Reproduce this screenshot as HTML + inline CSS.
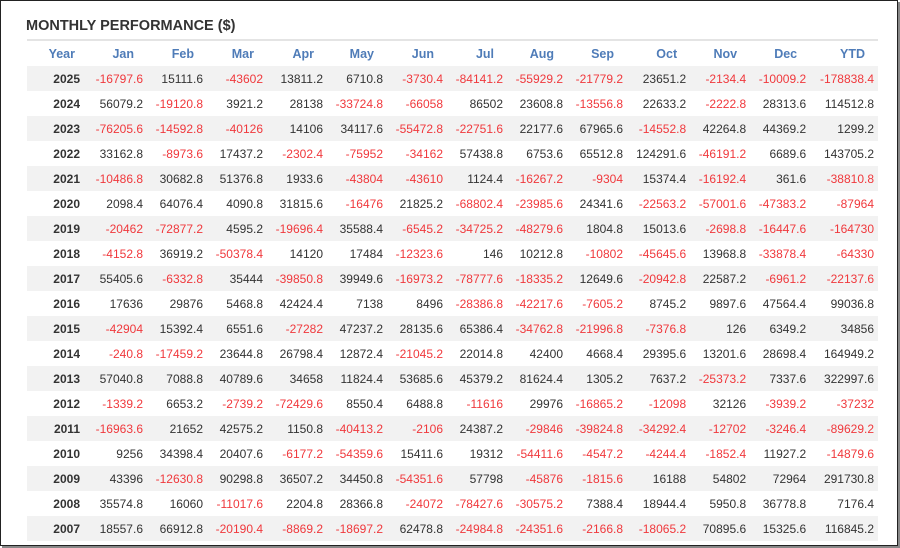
<!DOCTYPE html>
<html><head><meta charset="utf-8"><style>
html,body{margin:0;padding:0;background:#fff;}
.box{position:absolute;left:0;top:0;width:896px;height:544px;border:1px solid #222;box-shadow:2px 2px 0 #888;background:#fff;}
h1{position:absolute;left:26px;top:18px;margin:0;font:bold 14.5px "Liberation Sans",sans-serif;color:#333;}
table{position:absolute;left:27px;top:39px;width:851px;border-collapse:collapse;font:12px "Liberation Sans",sans-serif;color:#333;border-top:2px solid #e4e4e4;}
th{height:25px;color:#4f7cb8;font-weight:bold;font-size:12.5px;text-align:right;padding:0 13px 0 0;}
td{height:25px;text-align:right;padding:0 4px 0 0;white-space:nowrap;}
td:first-child{font-weight:bold;padding-right:7px;width:53px;}
th:first-child{padding-right:12px;}
tbody tr:nth-child(odd){background:#f2f2f2;}
.n{color:#f0383c;}
</style></head><body>
<div class="box"></div>
<h1>MONTHLY PERFORMANCE ($)</h1>
<table>
<thead><tr><th>Year</th><th>Jan</th><th>Feb</th><th>Mar</th><th>Apr</th><th>May</th><th>Jun</th><th>Jul</th><th>Aug</th><th>Sep</th><th>Oct</th><th>Nov</th><th>Dec</th><th>YTD</th></tr></thead>
<tbody id="b"></tbody>
</table>
<script>
var d=[
[2025,-16797.6,15111.6,-43602,13811.2,6710.8,-3730.4,-84141.2,-55929.2,-21779.2,23651.2,-2134.4,-10009.2,-178838.4],
[2024,56079.2,-19120.8,3921.2,28138,-33724.8,-66058,86502,23608.8,-13556.8,22633.2,-2222.8,28313.6,114512.8],
[2023,-76205.6,-14592.8,-40126,14106,34117.6,-55472.8,-22751.6,22177.6,67965.6,-14552.8,42264.8,44369.2,1299.2],
[2022,33162.8,-8973.6,17437.2,-2302.4,-75952,-34162,57438.8,6753.6,65512.8,124291.6,-46191.2,6689.6,143705.2],
[2021,-10486.8,30682.8,51376.8,1933.6,-43804,-43610,1124.4,-16267.2,-9304,15374.4,-16192.4,361.6,-38810.8],
[2020,2098.4,64076.4,4090.8,31815.6,-16476,21825.2,-68802.4,-23985.6,24341.6,-22563.2,-57001.6,-47383.2,-87964],
[2019,-20462,-72877.2,4595.2,-19696.4,35588.4,-6545.2,-34725.2,-48279.6,1804.8,15013.6,-2698.8,-16447.6,-164730],
[2018,-4152.8,36919.2,-50378.4,14120,17484,-12323.6,146,10212.8,-10802,-45645.6,13968.8,-33878.4,-64330],
[2017,55405.6,-6332.8,35444,-39850.8,39949.6,-16973.2,-78777.6,-18335.2,12649.6,-20942.8,22587.2,-6961.2,-22137.6],
[2016,17636,29876,5468.8,42424.4,7138,8496,-28386.8,-42217.6,-7605.2,8745.2,9897.6,47564.4,99036.8],
[2015,-42904,15392.4,6551.6,-27282,47237.2,28135.6,65386.4,-34762.8,-21996.8,-7376.8,126,6349.2,34856],
[2014,-240.8,-17459.2,23644.8,26798.4,12872.4,-21045.2,22014.8,42400,4668.4,29395.6,13201.6,28698.4,164949.2],
[2013,57040.8,7088.8,40789.6,34658,11824.4,53685.6,45379.2,81624.4,1305.2,7637.2,-25373.2,7337.6,322997.6],
[2012,-1339.2,6653.2,-2739.2,-72429.6,8550.4,6488.8,-11616,29976,-16865.2,-12098,32126,-3939.2,-37232],
[2011,-16963.6,21652,42575.2,1150.8,-40413.2,-2106,24387.2,-29846,-39824.8,-34292.4,-12702,-3246.4,-89629.2],
[2010,9256,34398.4,20407.6,-6177.2,-54359.6,15411.6,19312,-54411.6,-4547.2,-4244.4,-1852.4,11927.2,-14879.6],
[2009,43396,-12630.8,90298.8,36507.2,34450.8,-54351.6,57798,-45876,-1815.6,16188,54802,72964,291730.8],
[2008,35574.8,16060,-11017.6,2204.8,28366.8,-24072,-78427.6,-30575.2,7388.4,18944.4,5950.8,36778.8,7176.4],
[2007,18557.6,66912.8,-20190.4,-8869.2,-18697.2,62478.8,-24984.8,-24351.6,-2166.8,-18065.2,70895.6,15325.6,116845.2]];
var h='';d.forEach(function(r){h+='<tr>';r.forEach(function(v,i){h+='<td'+(i&&v<0?' class="n"':'')+'>'+v+'</td>';});h+='</tr>';});
document.getElementById('b').innerHTML=h;
</script>
</body></html>
